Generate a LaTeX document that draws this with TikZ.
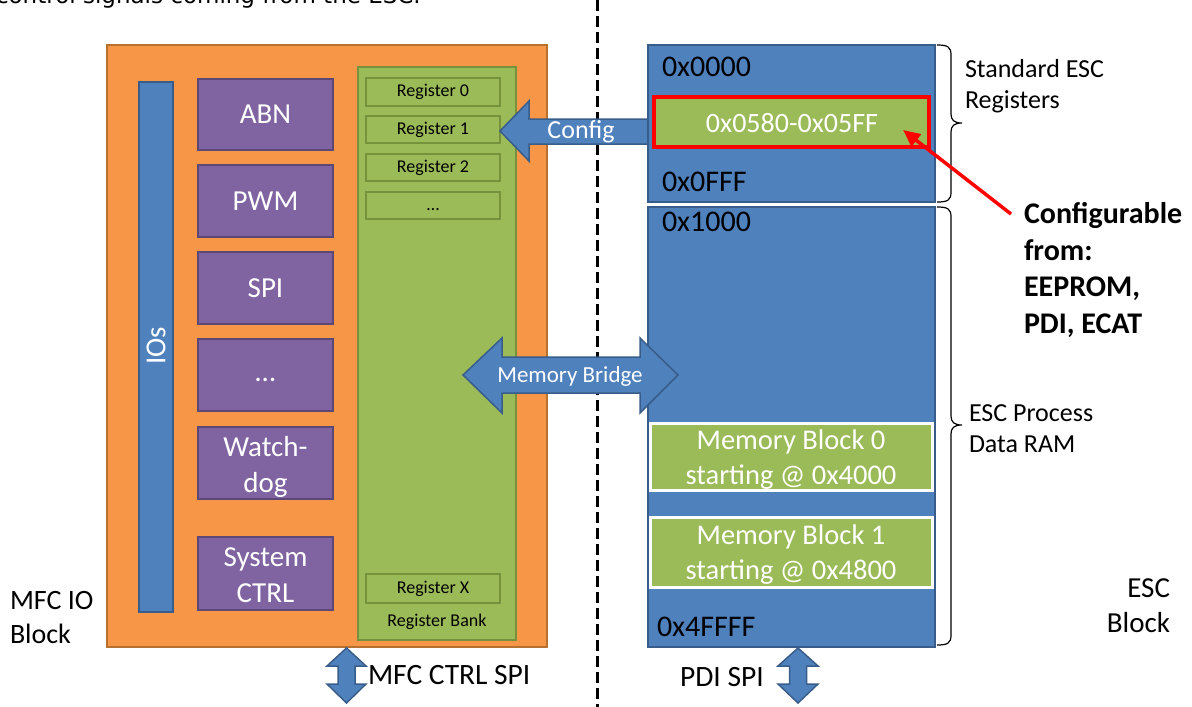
\documentclass[tikz,border=0pt]{standalone}
\usepackage{fontspec}
\setmainfont{Carlito}
\newfontfamily\dejavu{DejaVu Sans}
\usetikzlibrary{fit,arrows.meta}
\definecolor{orangefill}{HTML}{F79646}
\definecolor{orangeline}{HTML}{B6702F}
\definecolor{bluefill}{HTML}{4F81BD}
\definecolor{blueline}{HTML}{385D8A}
\definecolor{purplefill}{HTML}{8064A2}
\definecolor{purpleline}{HTML}{5C4776}
\definecolor{greenfill}{HTML}{9BBB59}
\definecolor{greenline}{HTML}{76923C}
\newcommand\fs[2]{\fontsize{#1}{#2}\selectfont}
\begin{document}
\begin{tikzpicture}[x=1pt,y=-1pt,
  every node/.style={inner sep=0pt, outer sep=0pt},
  orangebox/.style={draw=orangeline, fill=orangefill, line width=2.5pt},
  iobar/.style={draw=blueline, fill=bluefill, line width=2pt},
  pbox/.style={draw=purpleline, fill=purplefill, line width=2.5pt},
  ptext/.style={text=white, font=\fs{29}{36}, align=center},
  bankbox/.style={draw=greenline, fill=greenfill, line width=2pt},
  regbox/.style={draw=greenline, fill=greenfill, line width=2.5pt},
  regtext/.style={font=\fs{18}{22}},
  escbox/.style={draw=blueline, fill=bluefill, line width=1.5pt},
  hibox/.style={draw=red, fill=greenfill, line width=4.5pt},
  memblock/.style={draw=white, fill=greenfill, line width=3pt},
  memtext/.style={text=white, font=\fs{28.5}{35}, align=center},
  blockarrow/.style={draw=blueline, fill=bluefill, line width=1.5pt, line join=miter},
  addr/.style={anchor=west, font=\fs{30}{36}},
  sidetext/.style={align=left, font=\fs{26}{31}},
  bracepath/.style={draw=black, line width=1.2pt},
  divider/.style={draw=black, line width=3pt, dash pattern=on 11pt off 5pt},
  redarrow/.style={draw=red, line width=3.5pt, -{Triangle[length=17pt,width=15pt]}}
]
\useasboundingbox (0,0) rectangle (1192,707);

% cut-off text at the top
\node[anchor=base west, font=\dejavu\fs{23}{28}] (toptext) at (-4,3) {control signals coming from the ESC.};

% divider
\coordinate (divtop) at (597,0);
\coordinate (divbot) at (597,707);
\draw[divider] (divtop) -- (divbot);

% MFC IO block
\node[orangebox, fit={(107,45)(547,647)}] (mfc) {};
\node[iobar, fit={(139,82)(173,612)}] (ios) {};
\node[rotate=90, text=white, font=\fs{29}{35}] (iostext) at (156,346) {IOs};

\node[pbox, fit={(198,79)(333,150)}] (abn) {};
\node[pbox, fit={(198,165)(333,237)}] (pwm) {};
\node[pbox, fit={(198,252)(333,324)}] (spi) {};
\node[pbox, fit={(198,339)(333,411)}] (dots) {};
\node[pbox, fit={(198,427)(333,499)}] (wdog) {};
\node[pbox, fit={(198,537)(333,610)}] (sysctrl) {};
\node[ptext] (abnt) at (abn.center) {ABN};
\node[ptext] (pwmt) at (pwm.center) {PWM};
\node[ptext] (spit) at (spi.center) {SPI};
\node[ptext] (dotst) at ([yshift=-5]dots.center) {…};
\node[ptext] (wdogt) at ([yshift=-4]wdog.center) {Watch-\\dog};
\node[ptext] (sysctrlt) at ([yshift=-2]sysctrl.center) {System\\CTRL};

% register bank
\node[bankbox, fit={(358,67)(516,640)}] (bank) {};
\node[regbox, fit={(366,78)(500,106)}] (reg0) {};
\node[regbox, fit={(366,116)(500,143)}] (reg1) {};
\node[regbox, fit={(366,154)(500,181)}] (reg2) {};
\node[regbox, fit={(366,192)(500,219)}] (regdots) {};
\node[regbox, fit={(366,574)(500,603)}] (regx) {};
\node[regtext] (reg0t) at (reg0.center) {Register 0};
\node[regtext] (reg1t) at (reg1.center) {Register 1};
\node[regtext] (reg2t) at (reg2.center) {Register 2};
\node[regtext] (regdotst) at ([yshift=-4]regdots.center) {…};
\node[regtext] (regxt) at (regx.center) {Register X};
\node[regtext] (banklabel) at (437,622) {Register Bank};

% Config arrow
\draw[blockarrow] (648,119) -- (529,119) -- (529,101) -- (500,131) -- (529,161) -- (529,144) -- (648,144) -- cycle;
\node[text=white, font=\fs{26}{31}] (config) at (581,132) {Config};

% ESC blocks
\node[escbox, fit={(648,45)(935,202)}] (escreg) {};
\node[escbox, fit={(648,207)(935,647)}] (escram) {};
\node[hibox, fit={(654,97)(929,147)}] (hi) {};
\node[text=white, font=\fs{28}{34}] (hitext) at (792,123) {0x0580-0x05FF};
\node[memblock, fit={(650,423)(932,490)}] (mb0) {};
\node[memblock, fit={(650,517)(932,587)}] (mb1) {};
\node[memtext] (mb0t) at ([yshift=-3]mb0.center) {Memory Block 0\\starting @ 0x4000};
\node[memtext] (mb1t) at ([yshift=-3]mb1.center) {Memory Block 1\\starting @ 0x4800};

\node[addr] (a0) at (662,67) {0x0000};
\node[addr] (a1) at (662,182) {0x0FFF};
\node[addr] (a2) at (662,222) {0x1000};
\node[addr] (a3) at (657,627) {0x4FFFF};

% Memory bridge
\draw[blockarrow] (463,375) -- (502,338) -- (502,357) -- (640,357) -- (640,338) -- (678,375) -- (640,413) -- (640,393) -- (502,393) -- (502,413) -- cycle;
\node[text=white, font=\fs{23}{28}] (bridge) at (570,376) {Memory Bridge};

% SPI arrows
\draw[blockarrow, shift={(346.5,0)}] (0,648) -- (19.5,666) -- (8.5,666) -- (8.5,684) -- (19.5,684) -- (0,703) -- (-19.5,684) -- (-8.5,684) -- (-8.5,666) -- (-19.5,666) -- cycle;
\draw[blockarrow, shift={(798,0)}] (0,648) -- (20,666) -- (8.5,666) -- (8.5,684) -- (20,684) -- (0,703) -- (-20,684) -- (-8.5,684) -- (-8.5,666) -- (-20,666) -- cycle;
\node[anchor=west, font=\fs{29.5}{35}] (mfcspi) at (368,675) {MFC CTRL SPI};
\node[anchor=west, font=\fs{29.5}{35}] (pdispi) at (680,677) {PDI SPI};

% labels
\node[anchor=west, align=left, font=\fs{28}{34}] (mfclabel) at (10,618) {MFC IO\\Block};
\node[anchor=east, align=right, font=\fs{29}{35}] (esclabel) at (1170,606) {ESC\\Block};
\node[anchor=west, sidetext] (stdreg) at (965,86) {Standard ESC\\Registers};
\node[anchor=west, sidetext] (pdram) at (969,429) {ESC Process\\Data RAM};
\node[anchor=west, align=left, font=\bfseries\fs{30}{36.5}] (cfgfrom) at (1024,270) {Configurable\\from:\\EEPROM,\\PDI, ECAT};

% braces
\draw[bracepath] (937,45) .. controls (948,45) and (951,47) .. (951,55) -- (951,114) .. controls (951,120) and (954,123) .. (962,123) .. controls (954,123) and (951,126) .. (951,132) -- (951,192) .. controls (951,200) and (948,202) .. (937,202);
\draw[bracepath] (937,207) .. controls (948,207) and (951,209) .. (951,217) -- (951,416) .. controls (951,422) and (954,425) .. (962,425) .. controls (954,425) and (951,428) .. (951,434) -- (951,635) .. controls (951,643) and (948,645) .. (937,645);

% red arrow
\coordinate (cfgtail) at (1011,214);
\coordinate (cfgtip) at (903,130);
\draw[redarrow] (cfgtail) -- (cfgtip);
\end{tikzpicture}
\end{document}
